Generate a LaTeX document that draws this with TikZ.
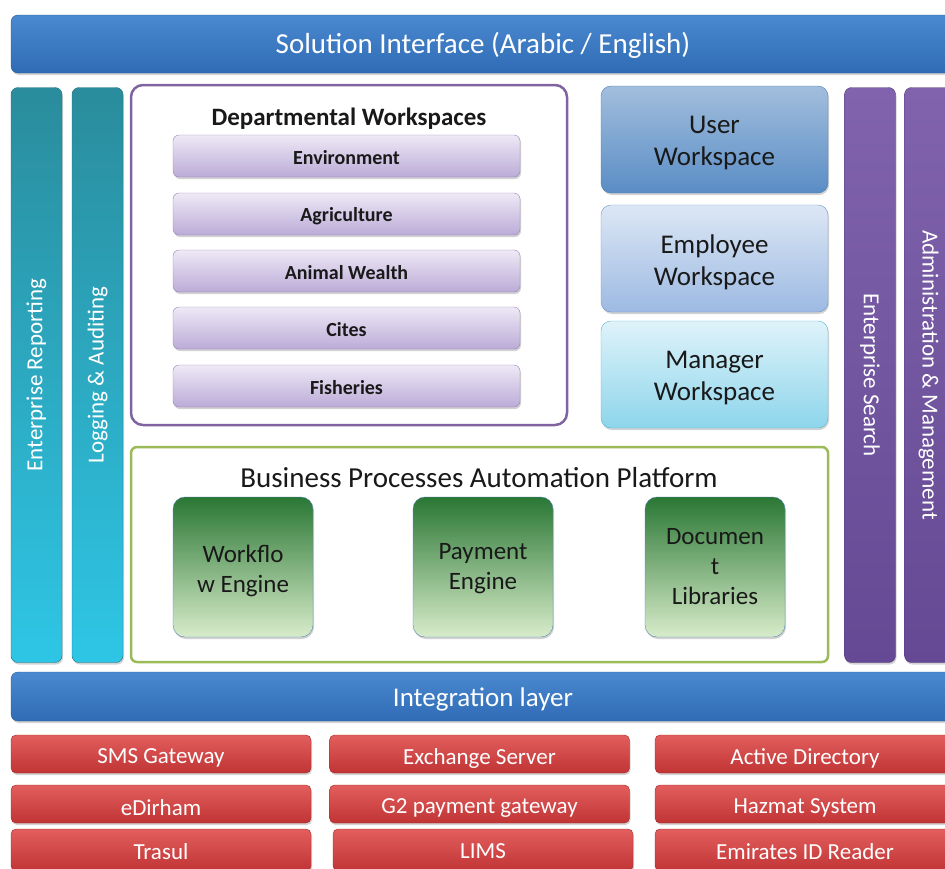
\documentclass[tikz,border=0pt]{standalone}
\usepackage{fontspec}
\setmainfont{Carlito}
\usetikzlibrary{shadows}

\definecolor{barTop}{HTML}{4A88D0}
\definecolor{barBot}{HTML}{2F6CB5}
\definecolor{barLine}{HTML}{2A5A96}
\definecolor{tealTop}{HTML}{2A8C9C}
\definecolor{tealBot}{HTML}{2EC6E6}
\definecolor{purTop}{HTML}{8063AC}
\definecolor{purBot}{HTML}{654994}
\definecolor{deptLine}{HTML}{8064A2}
\definecolor{deptTop}{HTML}{EEE9F6}
\definecolor{deptItem}{HTML}{BBABD7}
\definecolor{bpaLine}{HTML}{9BBB59}
\definecolor{redTop}{HTML}{E35E5E}
\definecolor{redBot}{HTML}{C03434}
\definecolor{redLine}{HTML}{A52828}
\definecolor{engTop}{HTML}{2A7734}
\definecolor{engMid}{HTML}{86B466}
\definecolor{engBot}{HTML}{D8ECCA}
\definecolor{engLine}{HTML}{5282B8}
\definecolor{wsUTop}{HTML}{A2BEDD}
\definecolor{wsUBot}{HTML}{5A8DC5}
\definecolor{wsULine}{HTML}{4D7DB5}
\definecolor{wsETop}{HTML}{DCE7F5}
\definecolor{wsEBot}{HTML}{9DBAE2}
\definecolor{wsELine}{HTML}{6E94C5}
\definecolor{wsMTop}{HTML}{DFF3FA}
\definecolor{wsMBot}{HTML}{8DD5EB}
\definecolor{wsMLine}{HTML}{5BB4CF}

\newcommand{\fs}[1]{\fontsize{#1}{1.2\dimexpr#1pt\relax}\selectfont}

\tikzset{
  base/.style={rounded corners=7pt, inner sep=0pt, align=center,
    drop shadow={shadow xshift=1pt, shadow yshift=-2pt, opacity=0.35}},
  caption/.style={inner sep=0pt, align=center},
  bar/.style={base, top color=barTop, bottom color=barBot, draw=barLine},
  bartext/.style={caption, text=white, font=\fs{29}},
  tealcol/.style={base, top color=tealTop, bottom color=tealBot, draw=tealTop!80!black,
    minimum width=51pt, minimum height=575pt},
  purcol/.style={base, top color=purTop, bottom color=purBot, draw=purBot!85!black,
    minimum width=51pt, minimum height=575pt},
  collabel/.style={caption, text=white, font=\fs{23}},
  group/.style={rounded corners=12pt, line width=2.5pt, fill=white},
  deptitem/.style={base, rounded corners=6pt, top color=deptTop, bottom color=deptItem,
    draw=deptLine!80, minimum width=347pt, minimum height=42pt},
  depttext/.style={caption, font=\bfseries\fs{20}, text=black!90},
  ws/.style={base, rounded corners=10pt, minimum width=227pt, minimum height=107pt},
  wstext/.style={caption, font=\fs{27}, text=black!90},
  engine/.style={base, rounded corners=12pt, top color=engTop, middle color=engMid,
    bottom color=engBot, draw=engLine, minimum width=140pt, minimum height=140pt},
  enginetext/.style={caption, font=\fs{25}, text=black!90},
  ext/.style={base, rounded corners=5pt, top color=redTop, bottom color=redBot, draw=redLine,
    minimum width=300pt, minimum height=38pt},
  exttext/.style={caption, text=white, font=\fs{23}},
}

\begin{document}
\begin{tikzpicture}[x=1pt, y=-1pt]
  \useasboundingbox (0,0) rectangle (945,868);

  % presentation layer
  \node[bar, minimum width=944pt, minimum height=58pt] (ui) at (483,44) {};
  \node[bartext] (uiT) at ([yshift=-1pt]ui.center) {Solution Interface (Arabic / English)};

  % cross-cutting services, left side
  \node[tealcol] (rep) at (36.5,375) {};
  \node[collabel, rotate=90] (repT) at (rep.center) {Enterprise Reporting};
  \node[tealcol] (log) at (97.5,375) {};
  \node[collabel, rotate=90] (logT) at (log.center) {Logging \& Auditing};

  % cross-cutting services, right side
  \node[purcol] (srch) at (870,375) {};
  \node[collabel, rotate=-90] (srchT) at (srch.center) {Enterprise Search};
  \node[purcol] (adm) at (930,375) {};
  \node[collabel, rotate=-90] (admT) at ([xshift=-1.5pt]adm.center) {Administration \& Management};

  % departmental workspaces
  \draw[group, draw=deptLine] (131,85) rectangle (567,425);
  \node[font=\bfseries\fs{25}, text=black!90] (deptT) at (349,119) {Departmental Workspaces};
  \foreach \name/\y/\txt in {env/156/Environment, agr/214/Agriculture, ani/271/Animal Wealth,
                             cit/328/Cites, fis/386/Fisheries} {
    \node[deptitem] (\name) at (346.5,\y) {};
    \node[depttext] (\name T) at ([yshift=-2pt]\name.center) {\txt};
  }

  % personal workspaces
  \node[ws, top color=wsUTop, bottom color=wsUBot, draw=wsULine] (user) at (714.5,139.5) {};
  \node[wstext] (userT) at ([yshift=-3.5pt]user.center) {User\\Workspace};
  \node[ws, top color=wsETop, bottom color=wsEBot, draw=wsELine] (emp) at (714.5,258.5) {};
  \node[wstext] (empT) at ([yshift=-3.5pt]emp.center) {Employee\\Workspace};
  \node[ws, top color=wsMTop, bottom color=wsMBot, draw=wsMLine] (mgr) at (714.5,374.5) {};
  \node[wstext] (mgrT) at ([yshift=-3.5pt]mgr.center) {Manager\\Workspace};

  % business process automation
  \draw[group, rounded corners=6pt, draw=bpaLine] (131,447) rectangle (828,662);
  \node[font=\fs{29}, text=black!90] (bpaT) at (479,478) {Business Processes Automation Platform};
  \node[engine] (wf)  at (243,567) {};
  \node[enginetext] (wfT) at ([yshift=-4pt]wf.center) {Workflo\\w Engine};
  \node[engine] (pay) at (483,567) {};
  \node[enginetext] (payT) at ([yshift=-2pt]pay.center) {Payment\\Engine};
  \node[engine] (doc) at (715,567) {};
  \node[enginetext] (docT) at (doc.center) {Documen\\t\\Libraries};

  % integration
  \node[bar, minimum width=944pt, minimum height=49pt] (intg) at (483,696.5) {};
  \node[bartext, font=\fs{27}] (intgT) at ([yshift=-3pt]intg.center) {Integration layer};

  % external systems
  \foreach \name/\x/\y/\txt in {sms/161/754/SMS Gateway, exch/479.5/754/Exchange Server,
                                ad/805/754/Active Directory, edh/161/804/eDirham,
                                g2/479.5/804/G2 payment gateway, haz/805/804/Hazmat System} {
    \node[ext] (\name) at (\x,\y) {};
    \node[exttext] (\name T) at ([yshift=-4pt]\name.center) {\txt};
  }
  \foreach \name/\x/\txt in {tra/161/Trasul, lims/483/LIMS, eid/805/Emirates ID Reader} {
    \node[ext, minimum height=42pt] (\name) at (\x,850) {};
    \node[exttext] (\name T) at ([yshift=-1.5pt]\name.center) {\txt};
  }
\end{tikzpicture}
\end{document}
